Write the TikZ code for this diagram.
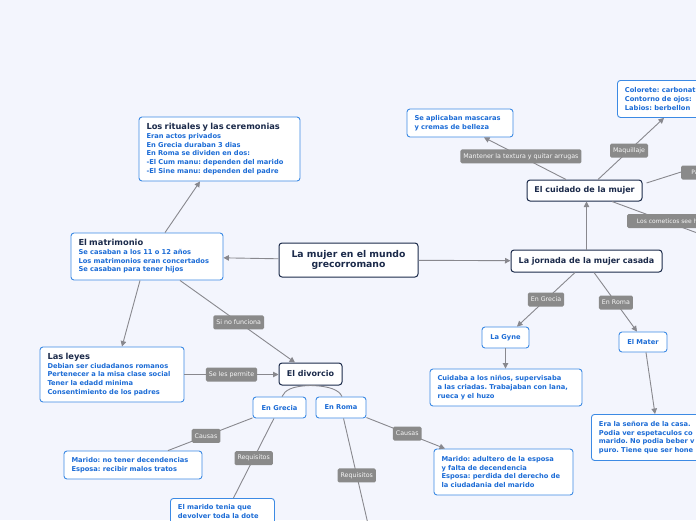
\documentclass[tikz,border=0pt]{standalone}
\usepackage{fontspec}
\setmainfont{DejaVu Sans}
\usetikzlibrary{arrows.meta,calc}
\definecolor{bgc}{RGB}{243,245,253}
\definecolor{navy}{RGB}{27,42,74}
\definecolor{bluet}{RGB}{28,108,214}
\definecolor{blueb}{RGB}{60,138,228}
\definecolor{lblg}{RGB}{138,138,138}
\definecolor{conng}{RGB}{136,136,142}
\newcommand{\ttl}[1]{{\color{navy}\fontsize{8.3}{9.6}\selectfont\bfseries #1}}
\tikzset{
 darkbox/.style={draw=navy, line width=1pt, fill=white, rounded corners=3pt, text=navy, font=\fontsize{8}{9}\selectfont\bfseries\frenchspacing, inner sep=0pt, align=center},
 bluebox/.style={draw=blueb, line width=0.9pt, fill=white, rounded corners=3pt, text=bluet, font=\fontsize{6.7}{8.7}\selectfont\bfseries\frenchspacing, inner xsep=7.5pt, inner ysep=0pt, align=left},
 bluesm/.style={draw=blueb, line width=0.9pt, fill=white, rounded corners=3pt, text=bluet, font=\fontsize{6.7}{8.7}\selectfont\bfseries, inner sep=0pt, align=center},
 lbl/.style={fill=lblg, text=white!92!lblg, rounded corners=1.5pt, font=\fontsize{6.3}{7}\selectfont, inner xsep=3pt, inner ysep=0pt, minimum height=14pt},
 conn/.style={draw=conng, line width=0.9pt},
 arr/.style={-{Triangle[length=5.5pt,width=5.5pt]}},
}
\begin{document}
\begin{tikzpicture}[x=1pt,y=-1pt]
\useasboundingbox (0,0) rectangle (696,520);
\clip (0,0) rectangle (696,520);
\fill[bgc] (0,0) rectangle (696,520);

% nodes
\node[darkbox, font=\fontsize{9.3}{10.8}\selectfont\bfseries, minimum width=139pt, minimum height=34pt] (cen) at (348.5,260) {La mujer en el mundo\\grecorromano};
\node[bluebox, text width=146pt, minimum height=64pt] (rit) at (219.5,149) {\ttl{Los rituales y las ceremonias}\\Eran actos privados\\En Grecia duraban 3 dias\\En Roma se dividen en dos:\\-El Cum manu: dependen del marido\\-El Sine manu: dependen del padre};
\node[bluebox, text width=137pt, minimum height=47pt] (mat) at (147,256.5) {\ttl{El matrimonio}\\Se casaban a los 11 o 12 años\\Los matrimonios eran concertados\\Se casaban para tener hijos};
\node[bluebox, text width=129pt, minimum height=55pt] (ley) at (112,374.5) {\ttl{Las leyes}\\Debian ser ciudadanos romanos\\Pertenecer a la misa clase social\\Tener la edadd minima\\Consentimiento de los padres};
\node[darkbox, minimum width=63pt, minimum height=22pt] (div) at (310.5,374) {El divorcio};
\node[bluesm, minimum width=53pt, minimum height=21pt] (gre) at (279.5,407.5) {En Grecia};
\node[bluesm, minimum width=50pt, minimum height=21pt] (rom) at (341,407.5) {En Roma};
\node[bluebox, text width=123pt, minimum height=28pt] (cg) at (133,465) {Marido: no tener decendencias\\Esposa: recibir malos tratos};
\node[bluebox, text width=89pt, minimum height=26pt, anchor=north west] (rg) at (170,498) {El marido tenia que\\devolver toda la dote};
\node[bluebox, text width=124pt, minimum height=46pt] (cr) at (503.5,472) {Marido: adultero de la esposa\\y falta de decendencia\\Esposa: perdida del derecho de\\la ciudadania del marido};
\node[darkbox, minimum width=151pt, minimum height=22pt] (jor) at (586.5,261) {La jornada de la mujer casada};
\node[darkbox, minimum width=115pt, minimum height=21pt] (cui) at (584.5,190.5) {El cuidado de la mujer};
\node[bluebox, text width=91pt, minimum height=28pt] (mas) at (460,123) {Se aplicaban mascaras\\y cremas de belleza};
\node[bluebox, text width=110pt, minimum height=37pt, anchor=north west] (col) at (617,80) {Colorete: carbonat\\Contorno de ojos:\\Labios: berbellon};
\node[bluesm, minimum width=47pt, minimum height=21pt] (gy) at (505.5,337.5) {La Gyne};
\node[bluesm, minimum width=48pt, minimum height=20pt] (mt) at (643,342) {El Mater};
\node[bluebox, text width=137pt, minimum height=37pt] (cu) at (506,387.5) {Cuidaba a los niños, supervisaba\\a las criadas. Trabajaban con lana,\\rueca y el huzo};
\node[bluebox, text width=120pt, minimum height=46pt, anchor=north west] (se) at (591,414) {Era la señora de la casa.\\Podia ver espetaculos co\\marido. No podia beber v\\puro. Tiene que ser hone};

\coordinate (rbot) at (368,524);
\coordinate (rpar) at (700,166);
\coordinate (rcos) at (700,234);

% connectors
\draw[conn,arr] (cen) -- (mat);
\draw[conn,arr] (cen) -- (jor);
\draw[conn,arr] ([xshift=18pt]mat.north) -- ([xshift=-19.5pt]rit.south);
\draw[conn,arr] ([xshift=-7pt]mat.south) -- ([xshift=10pt]ley.north);
\draw[conn,arr] ([xshift=33pt]mat.south) -- node[lbl,pos=0.51] (l1) {Si no funciona} ([xshift=-15.5pt]div.north);
\draw[conn,arr] (ley.east) -- node[lbl] (l2) {Se les permite} (ley.east -| div.west);
\draw[conn] (div.south) .. controls (292,386) and (285,390) .. ([xshift=2.5pt]gre.north);
\draw[conn] (div.south) .. controls (330,386) and (339,390) .. ([xshift=1pt]rom.north);
\draw[conn] (gre) -- node[lbl,pos=0.55] (l3) {Causas} ([xshift=35pt]cg.north);
\draw[conn] (gre) -- node[lbl,pos=0.5] (l4) {Requisitos} ([xshift=11pt]rg.north);
\draw[conn] (rom) -- node[lbl,pos=0.54] (l5) {Requisitos} (rbot);
\draw[conn,arr] (rom) -- node[lbl,pos=0.52] (l6) {Causas} ([xshift=-58.5pt]cr.north);
\draw[conn,arr] (jor.north) -- (jor.north |- cui.south);
\draw[conn,arr] ([xshift=-11.5pt]jor.south) -- node[lbl,pos=0.5] (l7) {En Grecia} ([xshift=11.5pt]gy.north);
\draw[conn,arr] ([xshift=7.5pt]jor.south) -- node[lbl,pos=0.51] (l8) {En Roma} ([xshift=-6pt]mt.north);
\draw[conn,arr] (gy.south) -- (gy.south |- cu.north);
\draw[conn,arr] ([xshift=3pt]mt.south) -- ([xshift=64pt]se.north west);
\draw[conn,arr] ([xshift=-18.5pt]cui.north) -- node[lbl,pos=0.55] (l9) {Mantener la textura y quitar arrugas} ([xshift=24pt]mas.south);
\draw[conn,arr] ([xshift=13.5pt]cui.north) -- node[lbl,pos=0.47] (l10) {Maquillaje} ([xshift=47pt]col.south west);
\draw[conn] ($(cui.east)+(4,-7.5)$) -- (rpar);
\draw[conn] ([xshift=27.5pt]cui.south) -- (rcos);
\node[lbl, anchor=west, minimum width=30pt, align=left, font=\fontsize{6}{7}\selectfont] (l11) at (681,172.5) {Par};
\node[lbl, anchor=west, minimum width=80pt, align=left, font=\fontsize{6}{7}\selectfont] (l12) at (627,221) {Los cometicos see h};
\end{tikzpicture}
\end{document}
